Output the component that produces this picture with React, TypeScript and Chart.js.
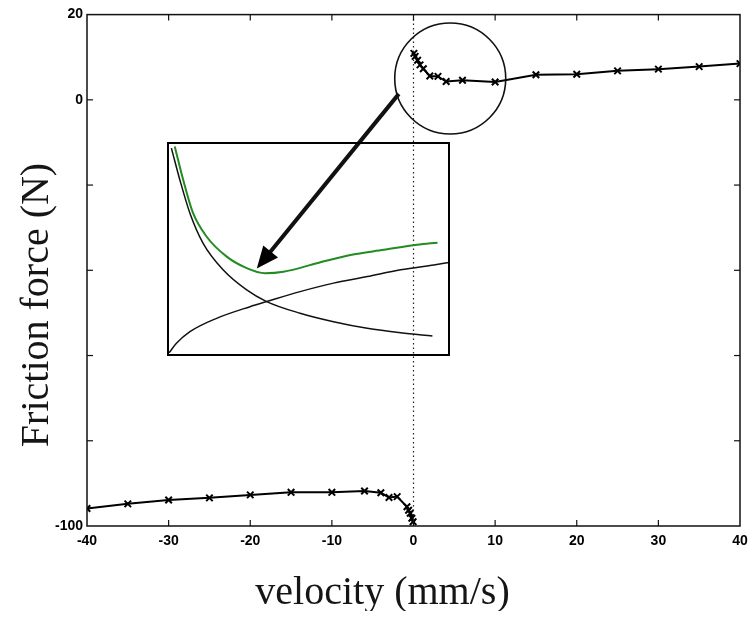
import React, { useEffect, useRef } from "react";
import { Chart, registerables } from "chart.js";

Chart.register(...registerables);

// ---- main data (velocity in mm/s, friction force in N) ----
const velNeg = [-40, -35, -30, -25, -20, -15, -10, -6, -4, -3, -2, -0.8, -0.6, -0.4, -0.2, -0.05];
const forceNeg = [-95.9, -94.8, -93.9, -93.4, -92.7, -92.1, -92.1, -91.8, -92.2, -93.3, -93.1, -95.5, -96.3, -97.0, -98.2, -99.0];
const velPos = [0.05, 0.2, 0.5, 0.8, 1.2, 2, 3, 4, 6, 10, 15, 20, 25, 30, 35, 40];
const forcePos = [10.9, 10.2, 9.3, 8.2, 7.3, 5.6, 5.5, 4.3, 4.6, 4.2, 5.9, 6.0, 6.8, 7.2, 7.8, 8.5];

const xTickValues = [-40, -30, -20, -10, 0, 10, 20, 30, 40];
const yLabelValues = [20, 0, -100];

// annotations (data units)
const circleCenter = [4.5, 5.0];
const circleRadiusVel = 6.8;
const arrowFrom = [-1.8, 1.4];
const arrowTo = [-19.2, -39.6];

// ---- inset (zoomed schematic, normalised units 0..100) ----
const greenU = [2.4, 5.4, 8.9, 13.7, 20.9, 28.0, 34.5, 41.1, 53.0, 64.9, 76.8, 88.7, 95.9];
const greenV = [98.4, 82.7, 67.0, 55.9, 46.4, 41.0, 38.6, 39.3, 43.3, 47.2, 49.6, 52.0, 53.0];
const decU = [1.2, 4.2, 7.8, 12.5, 19.6, 28.0, 35.1, 47.0, 58.9, 70.9, 82.8, 94.1];
const decV = [97.6, 82.7, 66.9, 52.7, 40.2, 30.7, 25.2, 19.7, 15.7, 12.6, 10.5, 9.0];
const incU = [0.4, 3.0, 7.8, 17.3, 29.2, 35.1, 47.0, 58.9, 70.9, 82.8, 94.6, 100];
const incV = [1.1, 5.5, 11.0, 17.3, 22.8, 25.2, 29.9, 33.9, 37.0, 40.2, 42.5, 43.6];

const pts = (xs: number[], ys: number[]) => xs.map((v, i) => ({ x: v, y: ys[i] }));

const tickFont = { family: "'Liberation Sans', Arial, sans-serif", size: 14, weight: "bold" as const };
const titleFont = "40px 'Liberation Serif', 'Times New Roman', serif";

const overlayPlugin = {
  id: "overlay",
  afterDatasetsDraw(chart: any) {
    const { ctx, chartArea: a } = chart;
    const x = chart.scales.x;
    const y = chart.scales.y;
    ctx.save();
    // frame
    ctx.strokeStyle = "#111";
    ctx.lineWidth = 1.5;
    ctx.strokeRect(a.left, a.top, a.right - a.left, a.bottom - a.top);
    // inward ticks
    ctx.lineWidth = 1.2;
    const seg = (x0: number, y0: number, x1: number, y1: number) => {
      ctx.beginPath();
      ctx.moveTo(x0, y0);
      ctx.lineTo(x1, y1);
      ctx.stroke();
    };
    x.ticks.forEach((t: any) => {
      const px = x.getPixelForValue(t.value);
      if (px <= a.left + 1 || px >= a.right - 1) return;
      seg(px, a.bottom, px, a.bottom - 6);
      seg(px, a.top, px, a.top + 6);
    });
    y.ticks.forEach((t: any) => {
      const py = y.getPixelForValue(t.value);
      if (py <= a.top + 1 || py >= a.bottom - 1) return;
      seg(a.left, py, a.left + 6, py);
      seg(a.right, py, a.right - 6, py);
    });
    // circle
    const cx = x.getPixelForValue(circleCenter[0]);
    const cy = y.getPixelForValue(circleCenter[1]);
    const r = Math.abs(x.getPixelForValue(circleCenter[0] + circleRadiusVel) - cx);
    ctx.lineWidth = 1.6;
    ctx.strokeStyle = "#111";
    ctx.beginPath();
    ctx.arc(cx, cy, r, 0, Math.PI * 2);
    ctx.stroke();
    // arrow
    const x0 = x.getPixelForValue(arrowFrom[0]);
    const y0 = y.getPixelForValue(arrowFrom[1]);
    const x1 = x.getPixelForValue(arrowTo[0]);
    const y1 = y.getPixelForValue(arrowTo[1]);
    const ang = Math.atan2(y1 - y0, x1 - x0);
    const headLen = 22;
    const headHalf = 9.5;
    const bx = x1 - headLen * Math.cos(ang);
    const by = y1 - headLen * Math.sin(ang);
    ctx.lineWidth = 4;
    ctx.lineCap = "butt";
    seg(x0, y0, bx + 2 * Math.cos(ang), by + 2 * Math.sin(ang));
    ctx.fillStyle = "#000";
    ctx.beginPath();
    ctx.moveTo(x1, y1);
    ctx.lineTo(bx - headHalf * Math.sin(ang), by + headHalf * Math.cos(ang));
    ctx.lineTo(bx + headHalf * Math.sin(ang), by - headHalf * Math.cos(ang));
    ctx.closePath();
    ctx.fill();
    ctx.restore();
  },
  afterDraw(chart: any) {
    const { ctx } = chart;
    ctx.save();
    ctx.fillStyle = "#151515";
    ctx.font = titleFont;
    ctx.textAlign = "center";
    ctx.textBaseline = "alphabetic";
    ctx.fillText("velocity (mm/s)", 374.5, 596);
    ctx.textBaseline = "middle";
    ctx.translate(29, 297);
    ctx.rotate(-Math.PI / 2);
    ctx.fillText("Friction force (N)", 0, 0);
    ctx.restore();
  },
};

const insetFramePlugin = {
  id: "insetFrame",
  afterDraw(chart: any) {
    const { ctx, chartArea: a } = chart;
    ctx.save();
    ctx.strokeStyle = "#000";
    ctx.lineWidth = 2;
    ctx.strokeRect(a.left, a.top, a.right - a.left, a.bottom - a.top);
    ctx.restore();
  },
};

export default function App() {
  const mainRef = useRef<HTMLCanvasElement>(null);
  const insetRef = useRef<HTMLCanvasElement>(null);

  useEffect(() => {
    if (!mainRef.current || !insetRef.current) return;
    document.documentElement.style.overflow = "hidden";
    const seriesStyle = {
      showLine: true,
      borderColor: "#000",
      borderWidth: 2,
      pointStyle: "crossRot" as const,
      pointRadius: 4.6,
      pointBorderWidth: 2,
      pointBorderColor: "#000",
      tension: 0,
    };
    const main = new Chart(mainRef.current, {
      type: "scatter",
      data: {
        datasets: [
          {
            label: "v=0",
            data: [
              { x: 0, y: 20 },
              { x: 0, y: -100 },
            ],
            showLine: true,
            borderColor: "#222",
            borderWidth: 1.2,
            borderDash: [1.5, 3],
            pointRadius: 0,
          },
          { label: "negative", data: pts(velNeg, forceNeg), ...seriesStyle },
          { label: "positive", data: pts(velPos, forcePos), ...seriesStyle },
        ],
      },
      options: {
        animation: false,
        responsive: false,
        layout: { padding: { left: 0, top: 6, right: 8, bottom: 0 } },
        plugins: { legend: { display: false }, tooltip: { enabled: false } },
        scales: {
          x: {
            type: "linear",
            min: -40,
            max: 40,
            grid: { display: false, drawTicks: false },
            border: { display: false },
            afterBuildTicks: (s: any) => {
              s.ticks = xTickValues.map((v) => ({ value: v }));
            },
            ticks: { font: tickFont, color: "#000", padding: 7, maxRotation: 0, autoSkip: false },
            afterFit: (s: any) => {
              s.height = 93;
              s.paddingLeft = 0;
              s.paddingRight = 0;
            },
          },
          y: {
            type: "linear",
            min: -100,
            max: 20,
            grid: { display: false, drawTicks: false },
            border: { display: false },
            ticks: {
              stepSize: 20,
              font: tickFont,
              color: "#000",
              padding: 4,
              autoSkip: false,
              callback: (v: any) => (yLabelValues.includes(Number(v)) ? String(v) : ""),
            },
            afterFit: (s: any) => {
              s.width = 79;
              s.paddingTop = 0;
              s.paddingBottom = 0;
            },
          },
        },
      },
      plugins: [overlayPlugin],
    });

    const inset = new Chart(insetRef.current, {
      type: "scatter",
      data: {
        datasets: [
          { label: "sum", data: pts(greenU, greenV), showLine: true, borderColor: "#228b22", borderWidth: 2, pointRadius: 0, cubicInterpolationMode: "monotone" },
          { label: "decreasing", data: pts(decU, decV), showLine: true, borderColor: "#111", borderWidth: 1.5, pointRadius: 0, cubicInterpolationMode: "monotone" },
          { label: "increasing", data: pts(incU, incV), showLine: true, borderColor: "#111", borderWidth: 1.5, pointRadius: 0, cubicInterpolationMode: "monotone" },
        ],
      },
      options: {
        animation: false,
        responsive: false,
        layout: { padding: 1 },
        plugins: { legend: { display: false }, tooltip: { enabled: false } },
        scales: {
          x: { type: "linear", min: 0, max: 100, display: false },
          y: { type: "linear", min: 0, max: 100, display: false },
        },
      },
      plugins: [insetFramePlugin],
    });

    return () => {
      main.destroy();
      inset.destroy();
    };
  }, []);

  return (
    <div style={{ position: "relative", width: 740, height: 603 }}>
      <canvas ref={mainRef} width={740} height={611} style={{ display: "block" }} />
      <canvas
        ref={insetRef}
        width={283}
        height={214}
        style={{ position: "absolute", left: 159, top: 134, display: "block" }}
      />
    </div>
  );
}
